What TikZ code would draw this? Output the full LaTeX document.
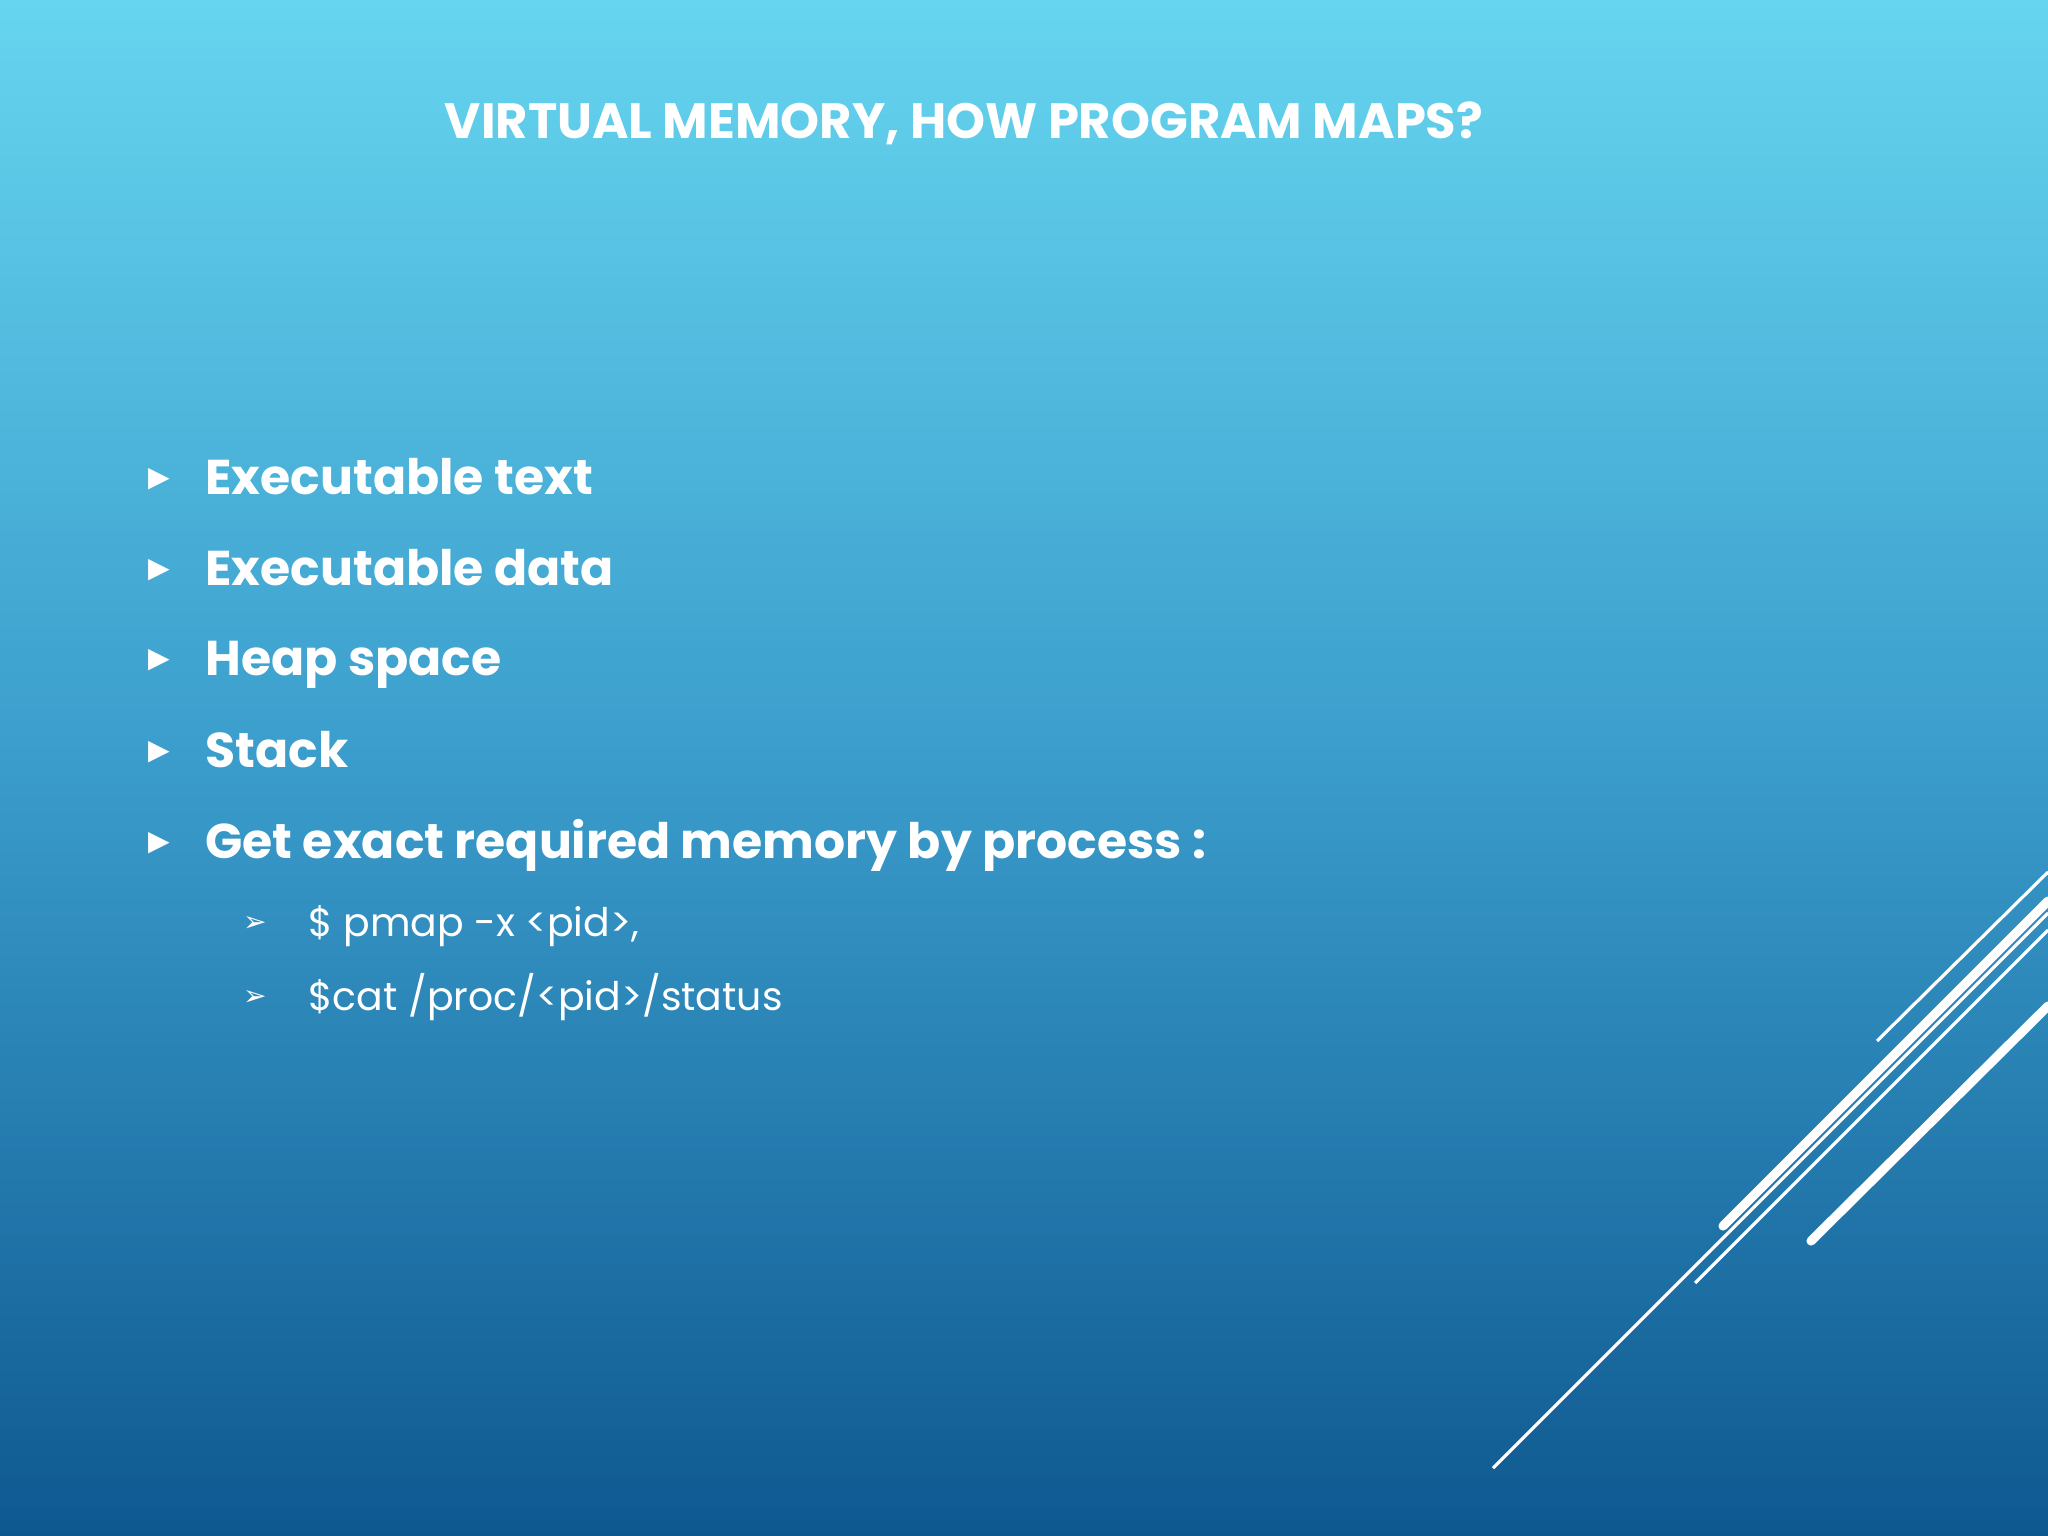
\documentclass[tikz,border=0pt]{standalone}
\usepackage{fontspec}
\setmainfont{Poppins}
\newfontfamily\symf{DejaVu Sans}
\definecolor{topc}{HTML}{66D5EF}
\definecolor{midc}{HTML}{3A9CCB}
\definecolor{botc}{HTML}{0E5890}
\begin{document}
\begin{tikzpicture}[x=0.01cm,y=-0.01cm,
  title/.style={text=white,font=\fontsize{14.1}{17}\selectfont\bfseries,anchor=base},
  item/.style={text=white,font=\fontsize{13.9}{17}\selectfont\bfseries,anchor=base west},
  sub/.style={text=white,font=\fontsize{11.2}{14}\selectfont,anchor=base west},
  bul/.style={text=white,font=\symf\fontsize{8}{10}\selectfont,anchor=center},
  thinl/.style={white,line width=0.9pt},
  thickl/.style={white,line width=2.6pt,line cap=round}]
\shade[top color=topc,bottom color=botc,middle color=midc] (0,0) rectangle (2048,1536);
\useasboundingbox (0,0) rectangle (2048,1536);
\node[title] (t) at (964,138) {VIRTUAL MEMORY, HOW PROGRAM MAPS?};
\foreach \y/\txt [count=\i] in {494/Executable text,585/Executable data,675/Heap space,767/Stack,858/Get exact required memory by process :}{
  \node[bul] (b\i) at (159,\y-15) {▶};
  \node[item] (i\i) at (193,\y) {\txt};
}
\node[bul] (s1b) at (255,924) {➢};
\node[sub] (s1) at (296,936) {\$ pmap -x <pid>,};
\node[bul] (s2b) at (255,998) {➢};
\node[sub] (s2) at (296,1010) {\$cat /proc/<pid>/status};
\coordinate (a1) at (1877,1041); \coordinate (a2) at (2048,872);
\coordinate (c1) at (1723,1226); \coordinate (c2) at (2048,901);
\coordinate (d1) at (1695,1283); \coordinate (d2) at (2048,930);
\coordinate (e1) at (1811,1241); \coordinate (e2) at (2048,1006);
\coordinate (f1) at (1493,1468); \coordinate (f2) at (2048,913);
\draw[thinl] (a1) -- (a2);
\draw[thickl] (c1) -- (c2);
\draw[thinl] (d1) -- (d2);
\draw[thickl] (e1) -- (e2);
\draw[thinl] (f1) -- (f2);
\end{tikzpicture}
\end{document}
